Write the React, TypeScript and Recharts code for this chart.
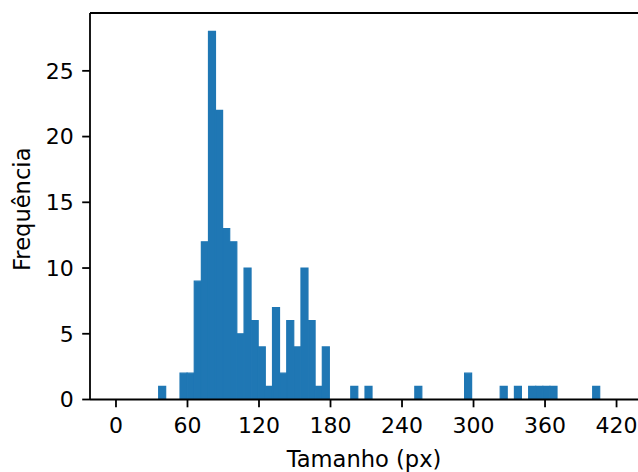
import { BarChart, Bar, XAxis, YAxis, ReferenceLine } from "recharts";

const FONT = "'DejaVu Sans', sans-serif";
const BLUE = "#1f77b4";

// histogram bins: start, width and count per bin (68 bins)
const BIN_START = 0;
const BIN_WIDTH = 5.97;
const COUNTS = [
  0, 0, 0, 0, 0, 0, 1, 0, 0, 2,
  2, 9, 12, 28, 22, 13, 12, 5, 10, 6,
  4, 1, 7, 2, 6, 4, 10, 6, 1, 4,
  0, 0, 0, 1, 0, 1, 0, 0, 0, 0,
  0, 0, 1, 0, 0, 0, 0, 0, 0, 2,
  0, 0, 0, 0, 1, 0, 1, 0, 1, 1,
  1, 1, 0, 0, 0, 0, 0, 1,
];

const X_TICKS = [0, 60, 120, 180, 240, 300, 360, 420];
const Y_TICKS = [0, 5, 10, 15, 20, 25];
const X_DOMAIN: [number, number] = [-21.8, 438];
const Y_DOMAIN: [number, number] = [0, 29.4];

const data = COUNTS.map((count, i) => ({
  x: BIN_START + (i + 0.5) * BIN_WIDTH,
  count,
}));

const textStyle = { fill: "#000", fontSize: 22, fontFamily: FONT };
const labelStyle = { fill: "#000", fontSize: 22.6, fontFamily: FONT };
const lineStyle = { stroke: "#000", strokeWidth: 1.8 };

export default function App() {
  return (
    <div style={{ position: "absolute", left: 0, top: 0, background: "#fff" }}>
      <BarChart
        width={638}
        height={472}
        data={data}
        margin={{ top: 13, right: 0, bottom: 0, left: 0 }}
        barCategoryGap={0}
      >
        <XAxis
          dataKey="x"
          type="number"
          domain={X_DOMAIN}
          ticks={X_TICKS}
          interval={0}
          allowDataOverflow
          height={72.5}
          tickSize={7.8}
          tickMargin={10}
          axisLine={lineStyle}
          tickLine={lineStyle}
          tick={textStyle}
          label={{
            value: "Tamanho (px)",
            position: "insideBottom",
            offset: 5.5,
            ...labelStyle,
          }}
        />
        <YAxis
          type="number"
          domain={Y_DOMAIN}
          ticks={Y_TICKS}
          interval={0}
          allowDataOverflow
          width={90}
          tickSize={7.8}
          tickMargin={8.5}
          axisLine={lineStyle}
          tickLine={lineStyle}
          tick={textStyle}
          label={{
            value: "Frequência",
            angle: -90,
            position: "insideLeft",
            offset: 22,
            dy: 3,
            style: { textAnchor: "middle" },
            ...labelStyle,
          }}
        />
        <Bar
          dataKey="count"
          fill={BLUE}
          stroke={BLUE}
          strokeWidth={1.2}
          isAnimationActive={false}
        />
        <ReferenceLine y={Y_DOMAIN[1]} stroke="#000" strokeWidth={1.8} />
      </BarChart>
    </div>
  );
}
